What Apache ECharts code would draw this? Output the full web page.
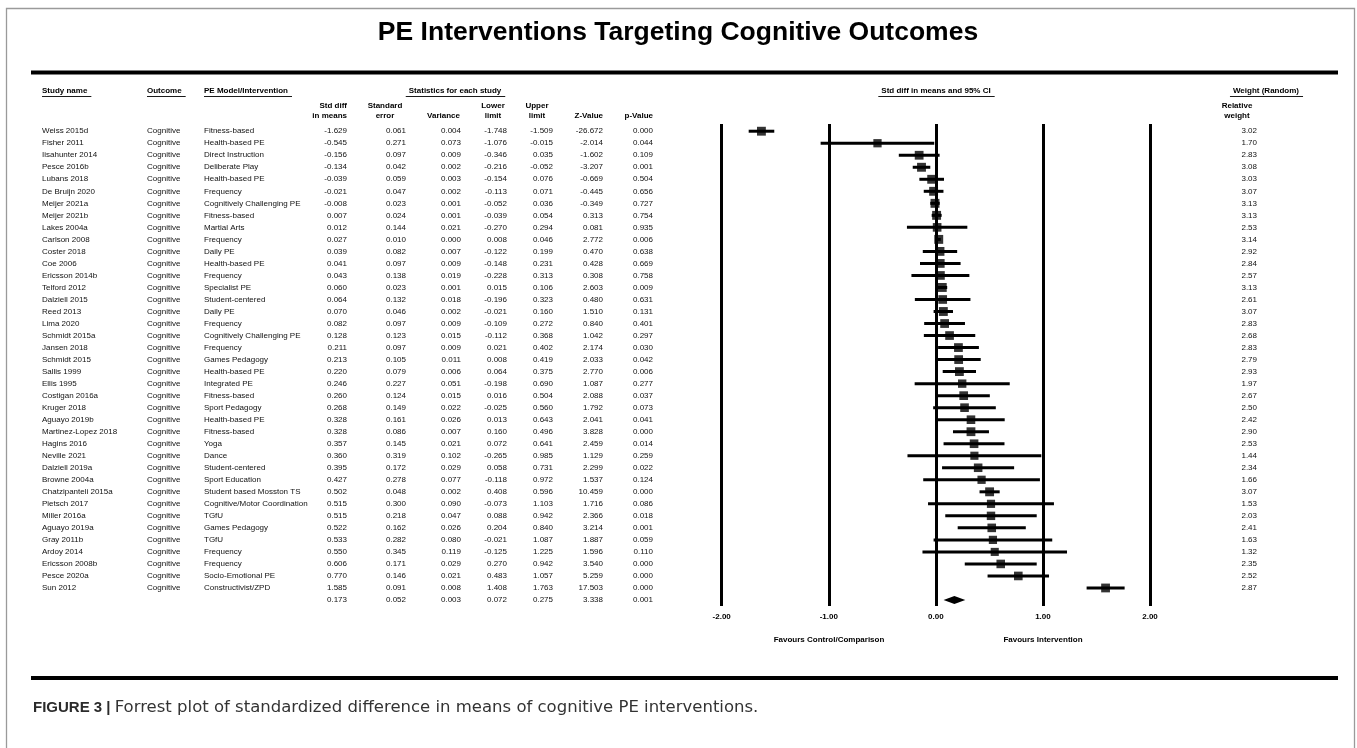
<!DOCTYPE html>
<html><head><meta charset="utf-8">
<script src="https://cdn.jsdelivr.net/npm/echarts@6/dist/echarts.min.js"></script>
<style>html,body{margin:0;padding:0;background:#fff}#c{width:1357px;height:748px}</style>
</head><body><div id="c"></div><script>
const studies = ["Weiss 2015d","Fisher 2011","Iisahunter 2014","Pesce 2016b","Lubans 2018","De Bruijn 2020","Meijer 2021a","Meijer 2021b","Lakes 2004a","Carlson 2008","Coster 2018","Coe 2006","Ericsson 2014b","Telford 2012","Dalziell 2015","Reed 2013","Lima 2020","Schmidt 2015a","Jansen 2018","Schmidt 2015","Sallis 1999","Ellis 1995","Costigan 2016a","Kruger 2018","Aguayo 2019b","Martinez-Lopez 2018","Hagins 2016","Neville 2021","Dalziell 2019a","Browne 2004a","Chatzipanteli 2015a","Pietsch 2017","Miller 2016a","Aguayo 2019a","Gray 2011b","Ardoy 2014","Ericsson 2008b","Pesce 2020a","Sun 2012"];
const outcomes = studies.map(() => "Cognitive");
const models = ["Fitness-based","Health-based PE","Direct Instruction","Deliberate Play","Health-based PE","Frequency","Cognitively Challenging PE","Fitness-based","Martial Arts","Frequency","Daily PE","Health-based PE","Frequency","Specialist PE","Student-centered","Daily PE","Frequency","Cognitively Challenging PE","Frequency","Games Pedagogy","Health-based PE","Integrated PE","Fitness-based","Sport Pedagogy","Health-based PE","Fitness-based","Yoga","Dance","Student-centered","Sport Education","Student based Mosston TS","Cognitive/Motor Coordination","TGfU","Games Pedagogy","TGfU","Frequency","Frequency","Socio-Emotional PE","Constructivist/ZPD"];
const smd = [-1.629,-0.545,-0.156,-0.134,-0.039,-0.021,-0.008,0.007,0.012,0.027,0.039,0.041,0.043,0.060,0.064,0.070,0.082,0.128,0.211,0.213,0.220,0.246,0.260,0.268,0.328,0.328,0.357,0.360,0.395,0.427,0.502,0.515,0.515,0.522,0.533,0.550,0.606,0.770,1.585];
const stdErr = [0.061,0.271,0.097,0.042,0.059,0.047,0.023,0.024,0.144,0.010,0.082,0.097,0.138,0.023,0.132,0.046,0.097,0.123,0.097,0.105,0.079,0.227,0.124,0.149,0.161,0.086,0.145,0.319,0.172,0.278,0.048,0.300,0.218,0.162,0.282,0.345,0.171,0.146,0.091];
const variance = [0.004,0.073,0.009,0.002,0.003,0.002,0.001,0.001,0.021,0.000,0.007,0.009,0.019,0.001,0.018,0.002,0.009,0.015,0.009,0.011,0.006,0.051,0.015,0.022,0.026,0.007,0.021,0.102,0.029,0.077,0.002,0.090,0.047,0.026,0.080,0.119,0.029,0.021,0.008];
const lower = [-1.748,-1.076,-0.346,-0.216,-0.154,-0.113,-0.052,-0.039,-0.270,0.008,-0.122,-0.148,-0.228,0.015,-0.196,-0.021,-0.109,-0.112,0.021,0.008,0.064,-0.198,0.016,-0.025,0.013,0.160,0.072,-0.265,0.058,-0.118,0.408,-0.073,0.088,0.204,-0.021,-0.125,0.270,0.483,1.408];
const upper = [-1.509,-0.015,0.035,-0.052,0.076,0.071,0.036,0.054,0.294,0.046,0.199,0.231,0.313,0.106,0.323,0.160,0.272,0.368,0.402,0.419,0.375,0.690,0.504,0.560,0.643,0.496,0.641,0.985,0.731,0.972,0.596,1.103,0.942,0.840,1.087,1.225,0.942,1.057,1.763];
const zValue = [-26.672,-2.014,-1.602,-3.207,-0.669,-0.445,-0.349,0.313,0.081,2.772,0.470,0.428,0.308,2.603,0.480,1.510,0.840,1.042,2.174,2.033,2.770,1.087,2.088,1.792,2.041,3.828,2.459,1.129,2.299,1.537,10.459,1.716,2.366,3.214,1.887,1.596,3.540,5.259,17.503];
const pValue = [0.000,0.044,0.109,0.001,0.504,0.656,0.727,0.754,0.935,0.006,0.638,0.669,0.758,0.009,0.631,0.131,0.401,0.297,0.030,0.042,0.006,0.277,0.037,0.073,0.041,0.000,0.014,0.259,0.022,0.124,0.000,0.086,0.018,0.001,0.059,0.110,0.000,0.000,0.000];
const weight = [3.02,1.70,2.83,3.08,3.03,3.07,3.13,3.13,2.53,3.14,2.92,2.84,2.57,3.13,2.61,3.07,2.83,2.68,2.83,2.79,2.93,1.97,2.67,2.50,2.42,2.90,2.53,1.44,2.34,1.66,3.07,1.53,2.03,2.41,1.63,1.32,2.35,2.52,2.87];
// summary (random effects): smd, se, variance, lower, upper, z, p
const summaryStats = [0.173,0.052,0.003,0.072,0.275,3.338,0.001];
const xTicks = [-2,-1,0,1,2];

const FF = '"Liberation Sans", Arial, sans-serif';
const n = studies.length;
const f3 = v => v.toFixed(3);

const ctx = document.createElement('canvas').getContext('2d');
function tw(t, size, bold) { ctx.font = (bold ? 'bold ' : '') + size + 'px "Liberation Sans"'; return ctx.measureText(t).width; }

// table column layout
const cols = [
  {x:42, align:'left', get:i => i < n ? studies[i] : ''},
  {x:147, align:'left', get:i => i < n ? outcomes[i] : ''},
  {x:204, align:'left', get:i => i < n ? models[i] : ''},
  {x:347, align:'right', get:i => f3(i < n ? smd[i] : summaryStats[0])},
  {x:406, align:'right', get:i => f3(i < n ? stdErr[i] : summaryStats[1])},
  {x:461, align:'right', get:i => f3(i < n ? variance[i] : summaryStats[2])},
  {x:507, align:'right', get:i => f3(i < n ? lower[i] : summaryStats[3])},
  {x:553, align:'right', get:i => f3(i < n ? upper[i] : summaryStats[4])},
  {x:603, align:'right', get:i => f3(i < n ? zValue[i] : summaryStats[5])},
  {x:653, align:'right', get:i => f3(i < n ? pValue[i] : summaryStats[6])},
  {x:1257, align:'right', get:i => i < n ? weight[i].toFixed(2) : ''}
];

const graphics = [];
function txt(t, x, y, align, size, bold, color) {
  graphics.push({type:'text', x:x, y:y, style:{text:t, align:align, verticalAlign:'middle', fontSize:size, fontWeight:bold?'bold':'normal', fontFamily:FF, fill:color||'#000'}, z:10});
}
function hline(x1, x2, y, w, color) {
  graphics.push({type:'line', shape:{x1:x1, y1:y, x2:x2, y2:y}, style:{stroke:color||'#000', lineWidth:w}, z:10});
}
function utxt(t, x, y, align) {
  txt(t, x, y, align, 8, true);
  const w = tw(t, 8, true);
  let x1 = align === 'left' ? x : align === 'center' ? x - w/2 : x - w;
  hline(x1 - (align === 'left' ? 0 : 3), x1 + w + 4, y + 5.5, 0.9);
}
// frame
graphics.push({type:'rect', shape:{x:6.5, y:8.5, width:1348, height:780}, style:{fill:'none', stroke:'#9a9a9a', lineWidth:1.3}, z:1});
// title
txt('PE Interventions Targeting Cognitive Outcomes', 678, 33, 'center', 26.5, true);
// rules
hline(31, 1338, 72.5, 4);
hline(31, 1338, 678, 4);
// headers
utxt('Study name', 42, 91, 'left');
utxt('Outcome', 147, 91, 'left');
utxt('PE Model/Intervention', 204, 91, 'left');
utxt('Statistics for each study', 455, 91, 'center');
utxt('Std diff in means and 95% CI', 936, 91, 'center');
utxt('Weight (Random)', 1266, 91, 'center');
txt('Std diff', 347, 105.5, 'right', 8, true);
txt('in means', 347, 115.5, 'right', 8, true);
txt('Standard', 385, 105.5, 'center', 8, true);
txt('error', 385, 115.5, 'center', 8, true);
txt('Variance', 460, 115.5, 'right', 8, true);
txt('Lower', 493, 105.5, 'center', 8, true);
txt('limit', 493, 115.5, 'center', 8, true);
txt('Upper', 537, 105.5, 'center', 8, true);
txt('limit', 537, 115.5, 'center', 8, true);
txt('Z-Value', 603, 115.5, 'right', 8, true);
txt('p-Value', 653, 115.5, 'right', 8, true);
txt('Relative', 1237, 105.5, 'center', 8, true);
txt('weight', 1237, 115.5, 'center', 8, true);
txt('Favours Control/Comparison', 829, 640, 'center', 8, true);
txt('Favours Intervention', 1043, 640, 'center', 8, true);
// caption
graphics.push({type:'text', x:33, y:708, style:{text:'{b|FIGURE 3 |} {r|Forrest plot of standardized difference in means of cognitive PE interventions.}', verticalAlign:'middle', fontSize:15, fontFamily:FF, fill:'#2b2b2b',
  rich:{b:{fontWeight:'bold', fontSize:15, fontFamily:FF, fill:'#2b2b2b'}, r:{fontSize:16.5, fontFamily:'"DejaVu Sans", sans-serif', fill:'#333'}}}, z:10});

const rows = [];
for (let i = 0; i <= n; i++) rows.push([0, i]);

const chart = echarts.init(document.getElementById('c'), null, {renderer:'canvas'});
chart.setOption({
  animation:false,
  backgroundColor:'#fff',
  grid:{left:721.7, width:428.3, top:124, height:482, containLabel:false},
  xAxis:{type:'value', min:xTicks[0], max:xTicks[xTicks.length-1], interval:1,
    axisLine:{show:false}, axisTick:{show:false},
    splitLine:{show:true, lineStyle:{color:'#000', width:3}},
    axisLabel:{formatter:v => v.toFixed(2), fontSize:8, fontWeight:'bold', color:'#000', fontFamily:FF, margin:7}},
  yAxis:{type:'value', inverse:true, min:-0.6, max:39.5, show:false, splitLine:{show:false}},
  graphic:graphics,
  series:[
    {type:'custom', name:'table', clip:false, silent:true, data:rows, encode:{x:0, y:1},
      renderItem:(params, api) => {
        const i = api.value(1);
        const y = api.coord([0, i])[1];
        return {type:'group', children:cols.map(c => ({type:'text', style:{text:c.get(i), x:c.x, y:y, align:c.align, verticalAlign:'middle', fontSize:8, fontFamily:FF, fill:'#111'}}))};
      }},
    {type:'custom', name:'ci', clip:false, silent:true, data:smd.map((v, i) => [lower[i], upper[i], i]),
      encode:{x:[0,1], y:2},
      renderItem:(params, api) => {
        const a = api.coord([api.value(0), api.value(2)]);
        const b = api.coord([api.value(1), api.value(2)]);
        return {type:'line', shape:{x1:a[0], y1:a[1], x2:b[0], y2:b[1]}, style:{stroke:'#000', lineWidth:3}};
      }},
    {type:'scatter', name:'effect', silent:true, symbol:'rect', data:smd.map((v, i) => [v, i, weight[i]]),
      symbolSize:d => 7.5 + d[2] * 0.45, itemStyle:{color:'#000'}, z:5},
    {type:'custom', name:'summary', clip:false, silent:true, data:[[summaryStats[3], summaryStats[0], summaryStats[4], n]],
      encode:{x:[0,1,2], y:3},
      renderItem:(params, api) => {
        const l = api.coord([api.value(0), api.value(3)]);
        const m = api.coord([api.value(1), api.value(3)]);
        const u = api.coord([api.value(2), api.value(3)]);
        return {type:'polygon', shape:{points:[[l[0], l[1]], [m[0], m[1]-4], [u[0], u[1]], [m[0], m[1]+4]]}, style:{fill:'#000'}};
      }}
  ]
});
</script></body></html>
